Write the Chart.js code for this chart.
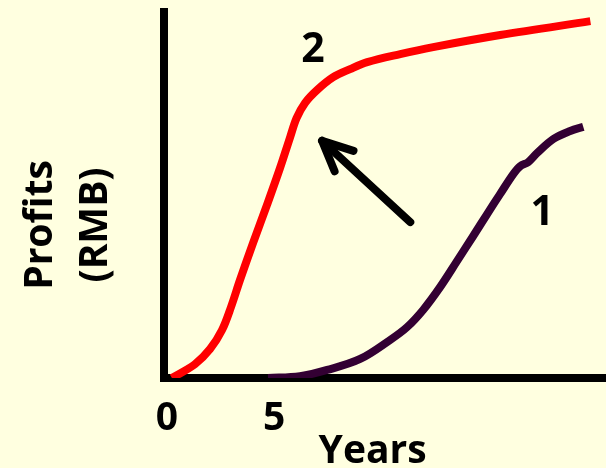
<!DOCTYPE html>
<html>
<head>
<meta charset="utf-8">
<script src="https://cdn.jsdelivr.net/npm/chart.js@4.4.1/dist/chart.umd.min.js"></script>
<style>
  html, body { margin: 0; padding: 0; background: #ffffe0; }
  #wrap { width: 606px; height: 468px; }
</style>
</head>
<body>
<div id="wrap"><canvas id="chart" width="606" height="468"></canvas></div>
<script>
// values (x = years, y = profits on a 0-100 scale)
const xTicks = [0, 5];
const curve2Years = [0.23, 1.31, 2.01, 2.57, 2.99, 3.41, 4.02, 4.67, 5.28, 5.75, 6.05, 6.45, 7.01, 7.76, 8.55, 9.35, 10.89, 12.43, 15.56, 19.77];
const curve2Profits = [0, 3.8, 7.9, 13.1, 19.4, 26.8, 36.9, 47.3, 57.4, 65.8, 71.0, 75.2, 78.7, 82.2, 84.4, 86.3, 88.5, 90.4, 93.7, 97.5];
const curve1Years = [4.72, 6.21, 7.48, 9.02, 10.42, 11.21, 11.96, 12.76, 13.55, 14.30, 14.95, 15.56, 16.17, 16.50, 16.87, 17.29, 18.04, 18.83, 19.44];
const curve1Profits = [0, 0.5, 2.2, 5.2, 10.4, 13.9, 18.6, 24.9, 32.0, 38.8, 44.8, 50.3, 55.7, 57.9, 59.0, 61.5, 65.3, 67.5, 68.6];
const curveNames = ["2", "1"];
const xTitle = "Years";
const yTitle = ["Profits", "(RMB)"];

const FONT = "'Open Sans', Lato, sans-serif";
Chart.defaults.font.family = FONT;

function toPoints(xs, ys) {
  return xs.map((x, i) => ({ x: x, y: ys[i] }));
}

// curve labels, axis titles and the arrow
const annotations = {
  id: "annotations",
  afterDatasetsDraw(chart) {
    const ctx = chart.ctx;
    const xs = chart.scales.x;
    const ys = chart.scales.y;
    const area = chart.chartArea;
    ctx.save();
    ctx.fillStyle = "#000";
    ctx.textAlign = "center";
    ctx.textBaseline = "alphabetic";

    ctx.font = "bold 41px " + FONT;
    ctx.fillText(curveNames[0], xs.getPixelForValue(6.82), ys.getPixelForValue(86.3));
    ctx.fillText(curveNames[1], xs.getPixelForValue(17.52), ys.getPixelForValue(41.8));

    ctx.font = "bold 39px " + FONT;
    ctx.fillText(xTitle, xs.getPixelForValue(9.6), area.bottom + 85);

    const midY = ys.getPixelForValue(41.8);
    [[yTitle[0], area.left - 112], [yTitle[1], area.left - 57]].forEach(function (t) {
      ctx.save();
      ctx.translate(t[1], midY);
      ctx.rotate(-Math.PI / 2);
      ctx.fillText(t[0], 0, 0);
      ctx.restore();
    });

    // arrow pointing from curve 1 to curve 2
    const tipX = xs.getPixelForValue(7.24), tipY = ys.getPixelForValue(64.8);
    const tailX = xs.getPixelForValue(11.36), tailY = ys.getPixelForValue(42.6);
    const ang = Math.atan2(tailY - tipY, tailX - tipX);
    const head = 33, spread = 25 * Math.PI / 180;
    ctx.strokeStyle = "#000";
    ctx.lineWidth = 8;
    ctx.lineCap = "round";
    ctx.lineJoin = "round";
    ctx.beginPath();
    ctx.moveTo(tailX, tailY);
    ctx.lineTo(tipX, tipY);
    ctx.stroke();
    ctx.beginPath();
    ctx.moveTo(tipX + head * Math.cos(ang - spread), tipY + head * Math.sin(ang - spread));
    ctx.lineTo(tipX, tipY);
    ctx.lineTo(tipX + head * Math.cos(ang + spread), tipY + head * Math.sin(ang + spread));
    ctx.stroke();
    ctx.restore();
  },
};

const chart = new Chart(document.getElementById("chart"), {
  type: "line",
  data: {
    datasets: [
      {
        label: curveNames[0],
        data: toPoints(curve2Years, curve2Profits),
        borderColor: "#ff0000",
        borderWidth: 8,
        borderCapStyle: "butt",
        pointRadius: 0,
        tension: 0.35,
        fill: false,
      },
      {
        label: curveNames[1],
        data: toPoints(curve1Years, curve1Profits),
        borderColor: "#330033",
        borderWidth: 8,
        borderCapStyle: "butt",
        pointRadius: 0,
        tension: 0.35,
        fill: false,
      },
    ],
  },
  options: {
    responsive: false,
    animation: false,
    events: [],
    layout: { padding: { top: 12, left: 0, right: 0, bottom: 0 } },
    plugins: { legend: { display: false }, tooltip: { enabled: false } },
    scales: {
      x: {
        type: "linear",
        min: -0.14,
        max: 20.5,
        grid: { display: false, drawTicks: false },
        border: { display: true, color: "#000", width: 8 },
        afterBuildTicks: function (scale) {
          scale.ticks = xTicks.map((v) => ({ value: v }));
        },
        afterFit: function (scale) {
          scale.height = 90;
        },
        ticks: {
          autoSkip: false,
          maxRotation: 0,
          padding: 17,
          color: "#000",
          font: { size: 39, weight: "bold" },
        },
      },
      y: {
        type: "linear",
        min: 0,
        max: 100,
        grid: { display: false, drawTicks: false },
        border: { display: true, color: "#000", width: 8 },
        afterFit: function (scale) {
          scale.width = 164;
        },
        ticks: { display: false },
      },
    },
  },
  plugins: [annotations],
});
</script>
</body>
</html>
